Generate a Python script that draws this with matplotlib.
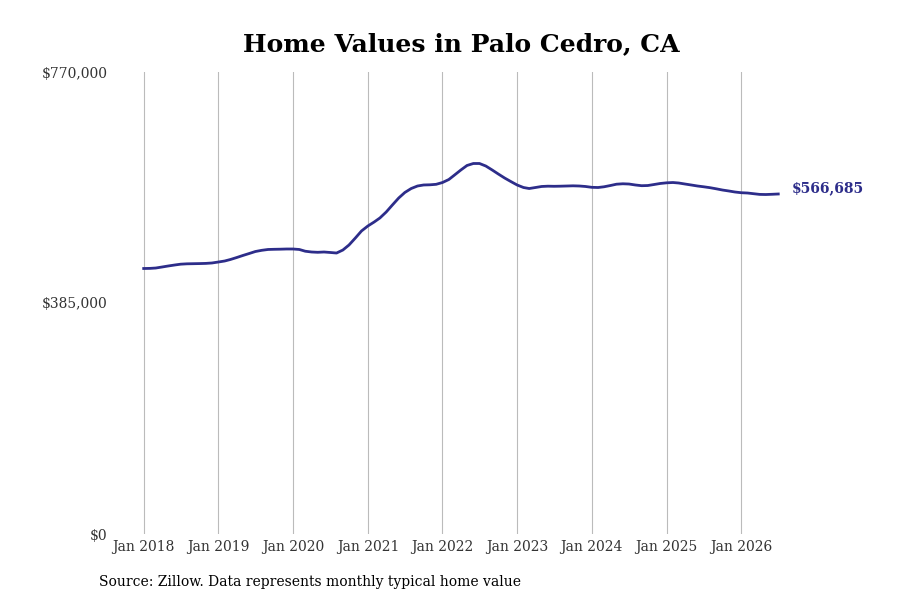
import matplotlib
matplotlib.use("Agg")
import matplotlib.pyplot as plt
import pandas as pd

plt.rcParams['font.family'] = ['DejaVu Serif']

start_month = "2018-01-01"
values = [
    442500, 442700, 443300, 445000, 446700, 448300, 449700, 450300, 450500, 450700, 451000, 451700,
    453300, 455000, 457500, 460800, 464200, 467500, 470800, 472800, 474200, 474500, 474700, 475000,
    475000, 474200, 471300, 470000, 469500, 470000, 469200, 468300, 473300, 481700, 493300, 505000,
    513300, 520000, 526700, 536700, 548300, 560000, 569200, 575800, 580000, 581700, 582000, 582800,
    585800, 590800, 598300, 606700, 614200, 617500, 617500, 613300, 606700, 600000, 593300, 587500,
    581700, 577500, 575800, 577500, 579200, 579700, 579500, 579700, 580000, 580300, 580000, 579200,
    577800, 577500, 578700, 580800, 583000, 583700, 583300, 581700, 580500, 580800, 582500, 584200,
    585300, 585800, 585000, 583300, 581700, 580000, 578700, 577200, 575300, 573300, 571700, 570000,
    568800, 568300, 567200, 566000, 565800, 566200, 566685,
]
dates = pd.date_range(start_month, periods=len(values), freq="MS")

y_ticks = [0, 385000, 770000]
y_tick_labels = ["$0", "$385,000", "$770,000"]
x_tick_years = list(range(2018, 2027))

title = "Home Values in Palo Cedro, CA"
source = "Source: Zillow. Data represents monthly typical home value"
line_color = "#2d2d8a"

fig = plt.figure(figsize=(9, 6), dpi=100)
ax = fig.add_axes([0.1244, 0.11, 0.9 - 0.1244, 0.77])

ax.plot(dates, values, color=line_color, linewidth=2)
ax.set_ylim(0, 770000)
ax.set_yticks(y_ticks)
ax.set_yticklabels(y_tick_labels)
ax.set_xticks([pd.Timestamp(f"{y}-01-01") for y in x_tick_years])
ax.set_xticklabels([f"Jan {y}" for y in x_tick_years])
ax.tick_params(axis='both', length=0, labelsize=10, colors="#333333")
ax.tick_params(axis='x', pad=4)
ax.tick_params(axis='y', pad=3)
ax.grid(axis='x', color="#bbbbbb", linewidth=0.8)
ax.grid(axis='y', visible=False)
for s in ax.spines.values():
    s.set_visible(False)

ax.annotate(f"${values[-1]:,}", xy=(dates[-1], values[-1]), xytext=(10, 4.5),
            textcoords="offset points", va="center", ha="left",
            color=line_color, fontsize=10, fontweight="bold")

ax_box = ax.get_position()
fig.text((ax_box.x0 + ax_box.x1) / 2, 0.926, title, ha="center", va="center",
         fontsize=18, fontweight="bold")
fig.text(0.11, 0.03, source, ha="left", va="center", fontsize=10)

fig.savefig("out.png", dpi=100)
